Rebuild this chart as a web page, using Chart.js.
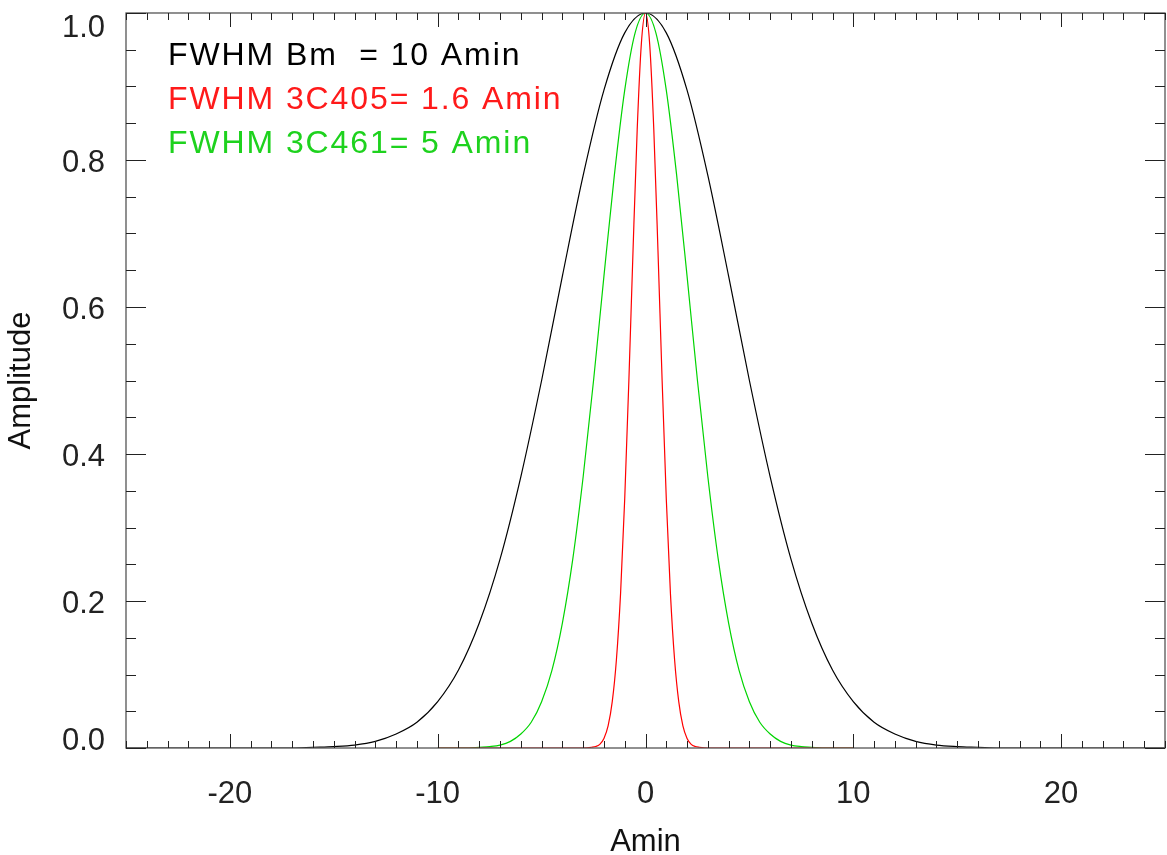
<!DOCTYPE html>
<html>
<head>
<meta charset="utf-8" />
<title>Beam profiles</title>
<script src="https://cdn.jsdelivr.net/npm/chart.js@4.4.1/dist/chart.umd.min.js"></script>
<style>
	html, body { margin: 0; padding: 0; background: #fff; }
	#wrap { width: 1167px; height: 855px; position: relative; }
</style>
</head>
<body>
<div id="wrap"><canvas id="beamChart"></canvas></div>
<script>
// values (Amin, amplitude)
var xBeam = [-25,-24,-23,-22,-21,-20,-19,-18,-17,-16,-15,-14,-13,-12,-11,-10,-9,-8,-7,-6,-5,-4,-3,-2,-1,
	0,1,2,3,4,5,6,7,8,9,10,11,12,13,14,15,16,17,18,19,20,21,22,23,24,25]
var yBeam = [0,0,0,0,0,0,0,0,0,0.001,0.002,0.004,0.009,0.019,0.035,0.063,0.106,0.170,0.257,0.369,0.500,0.642,0.779,0.895,0.973,
	1.000,0.973,0.895,0.779,0.642,0.500,0.369,0.257,0.170,0.106,0.063,0.035,0.019,0.009,0.004,0.002,0.001,0,0,0,0,0,0,0,0,0]

var x405 = [-10,-3,-2.6,-2.4,-2.2,-2,-1.8,-1.6,-1.4,-1.2,-1,-0.8,-0.6,-0.4,-0.2,
	0,0.2,0.4,0.6,0.8,1,1.2,1.4,1.6,1.8,2,2.2,2.4,2.6,3,10]
var y405 = [0,0,0.001,0.002,0.005,0.013,0.030,0.063,0.120,0.210,0.339,0.500,0.677,0.841,0.958,
	1.000,0.958,0.841,0.677,0.500,0.339,0.210,0.120,0.063,0.030,0.013,0.005,0.002,0.001,0,0]

var x461 = [-10,-9.5,-9,-8.5,-8,-7.5,-7,-6.5,-6,-5.5,-5,-4.5,-4,-3.5,-3,-2.5,-2,-1.5,-1,-0.5,
	0,0.5,1,1.5,2,2.5,3,3.5,4,4.5,5,5.5,6,6.5,7,7.5,8,8.5,9,9.5,10]
var y461 = [0,0,0,0,0.001,0.002,0.004,0.009,0.019,0.035,0.063,0.106,0.170,0.257,0.369,0.500,0.642,0.779,0.895,0.973,
	1.000,0.973,0.895,0.779,0.642,0.500,0.369,0.257,0.170,0.106,0.063,0.035,0.019,0.009,0.004,0.002,0.001,0,0,0,0]

var xTicks = [-20, -10, 0, 10, 20]
var yTicks = [0, 0.2, 0.4, 0.6, 0.8, 1.0]
var labels = ['FWHM Bm  = 10 Amin', 'FWHM 3C405= 1.6 Amin', 'FWHM 3C461= 5 Amin']
var colors = ['#000000', '#ff1a1a', '#1ed21e']

function pts(xs, ys) {
	var out = []
	for (var i = 0; i < xs.length; i++) out.push({x: xs[i], y: ys[i]})
	return out
}

// frame + inward ticks on all four sides (IDL style)
var frame = {
	id: 'frame',
	afterDatasetsDraw: function(chart) {
		var ctx = chart.ctx, a = chart.chartArea
		var sx = chart.scales.x, sy = chart.scales.y
		ctx.save()
		ctx.strokeStyle = '#555'
		ctx.lineWidth = 1.3
		ctx.strokeRect(a.left, a.top, a.right - a.left, a.bottom - a.top)
		ctx.strokeStyle = '#222'
		ctx.lineWidth = 1
		ctx.beginPath()
		for (var v = -25; v <= 25; v++) {
			var px = Math.round(sx.getPixelForValue(v)) + 0.5
			var len = (v % 10 === 0) ? 14 : 7
			ctx.moveTo(px, a.bottom); ctx.lineTo(px, a.bottom - len)
			ctx.moveTo(px, a.top); ctx.lineTo(px, a.top + len)
		}
		for (var k = 0; k <= 20; k++) {
			var py = Math.round(sy.getPixelForValue(k * 0.05)) + 0.5
			var l2 = (k % 4 === 0) ? 20 : 10
			ctx.moveTo(a.left, py); ctx.lineTo(a.left + l2, py)
			ctx.moveTo(a.right, py); ctx.lineTo(a.right - l2, py)
		}
		ctx.stroke()
		ctx.restore()
	}
}

var notes = {
	id: 'notes',
	afterDraw: function(chart) {
		var ctx = chart.ctx
		ctx.save()
		ctx.font = '32px "Liberation Sans", Arial, sans-serif'
		ctx.letterSpacing = '1.9px'
		ctx.textBaseline = 'alphabetic'
		for (var i = 0; i < labels.length; i++) {
			ctx.fillStyle = colors[i]
			ctx.fillText(labels[i], 168, 65 + i * 44)
		}
		ctx.restore()
	}
}

var tickFont = {family: '"Liberation Sans", Arial, sans-serif', size: 31}

new Chart('beamChart', {
	type: 'line',
	data: {
		datasets: [
			{data: pts(xBeam, yBeam), borderColor: colors[0]},
			{data: pts(x405, y405), borderColor: '#ff0000'},
			{data: pts(x461, y461), borderColor: '#00d400'}
		]
	},
	options: {
		responsive: true,
		maintainAspectRatio: false,
		animation: false,
		layout: {padding: {top: 13, right: 2, left: 0, bottom: 0}},
		elements: {
			point: {radius: 0},
			line: {borderWidth: 1.2, cubicInterpolationMode: 'monotone', fill: false}
		},
		plugins: {legend: {display: false}, tooltip: {enabled: false}},
		scales: {
			x: {
				type: 'linear', min: -25, max: 25,
				grid: {display: false}, border: {display: false},
				afterBuildTicks: function(s) { s.ticks = xTicks.map(function(v) { return {value: v} }) },
				afterFit: function(s) { s.height = 107; s.paddingLeft = 0; s.paddingRight = 0 },
				ticks: {font: tickFont, color: '#222', padding: 20, maxRotation: 0},
				title: {display: true, text: 'Amin', font: {family: tickFont.family, size: 31, lineHeight: 0.8},
					color: '#111', padding: {top: 0, bottom: 0}}
			},
			y: {
				min: 0, max: 1.0,
				grid: {display: false}, border: {display: false},
				afterBuildTicks: function(s) { s.ticks = yTicks.map(function(v) { return {value: v} }) },
				afterFit: function(s) { s.width = 126; s.paddingTop = 0; s.paddingBottom = 0 },
				ticks: {
					color: '#222', padding: 13, labelOffset: 3,
					// end labels are kept inside the frame, like IDL does
					font: function(c) {
						var lh = '37px'
						if (c.tick && c.tick.value >= 1) lh = '24px'
						if (c.tick && c.tick.value === 0) lh = '20px'
						return {family: tickFont.family, size: 31, lineHeight: lh}
					},
					callback: function(v) {
						var s = Number(v).toFixed(1)
						if (v >= 1) return ['', s]
						if (v === 0) return [s, '']
						return s
					}
				},
				title: {display: true, text: 'Amplitude', font: {family: tickFont.family, size: 31, lineHeight: 0.9},
					color: '#111', padding: {top: 8, bottom: 0}}
			}
		}
	},
	plugins: [frame, notes]
})
</script>
</body>
</html>
